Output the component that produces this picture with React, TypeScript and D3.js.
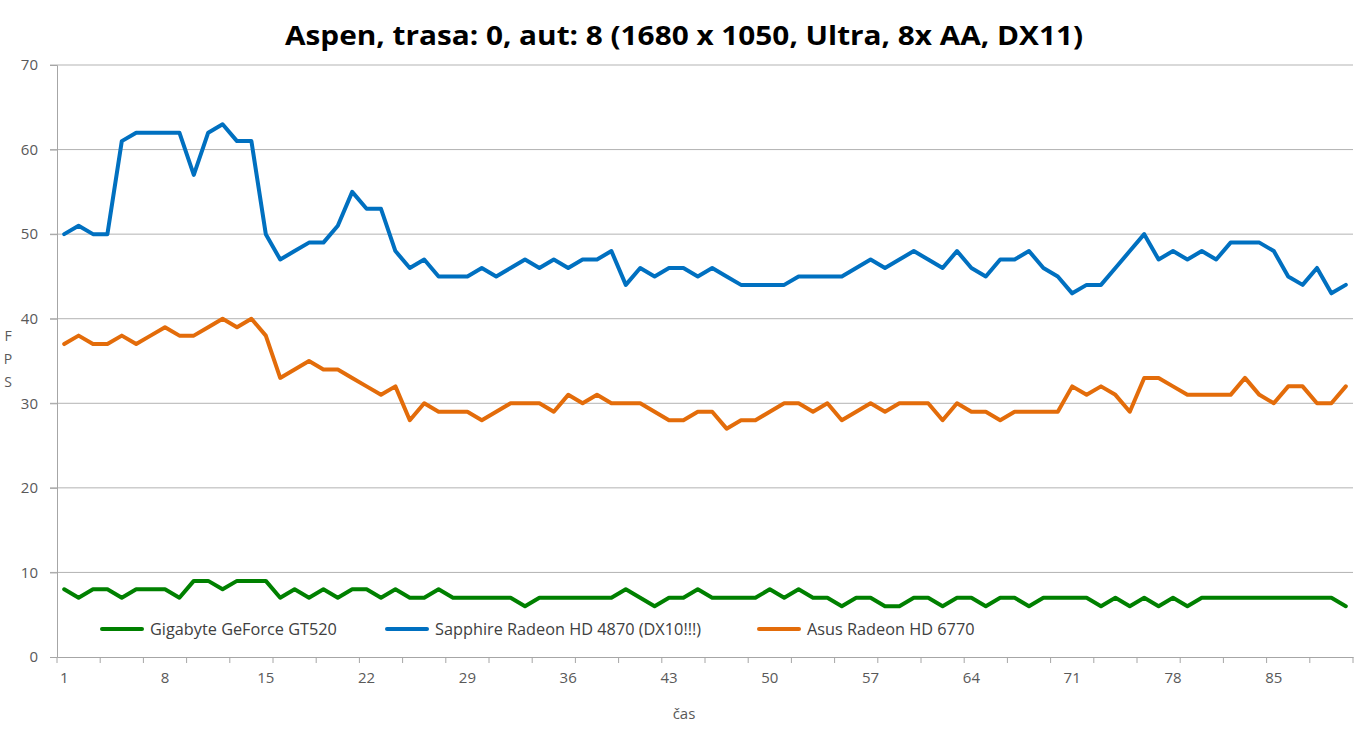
import { useEffect, useRef } from "react";
import * as d3 from "d3";

// FPS per time sample (1..90)
const gigabyte = [
  8, 7, 8, 8, 7, 8, 8, 8, 7, 9, 9, 8, 9, 9, 9, 7, 8, 7, 8, 7, 8, 8, 7,
  8, 7, 7, 8, 7, 7, 7, 7, 7, 6, 7, 7, 7, 7, 7, 7, 8, 7, 6, 7, 7, 8, 7,
  7, 7, 7, 8, 7, 8, 7, 7, 6, 7, 7, 6, 6, 7, 7, 6, 7, 7, 6, 7, 7, 6, 7,
  7, 7, 7, 6, 7, 6, 7, 6, 7, 6, 7, 7, 7, 7, 7, 7, 7, 7, 7, 7, 6,
];
const sapphire = [
  50, 51, 50, 50, 61, 62, 62, 62, 62, 57, 62, 63, 61, 61, 50, 47, 48, 49, 49, 51, 55, 53, 53,
  48, 46, 47, 45, 45, 45, 46, 45, 46, 47, 46, 47, 46, 47, 47, 48, 44, 46, 45, 46, 46, 45, 46,
  45, 44, 44, 44, 44, 45, 45, 45, 45, 46, 47, 46, 47, 48, 47, 46, 48, 46, 45, 47, 47, 48, 46,
  45, 43, 44, 44, 46, 48, 50, 47, 48, 47, 48, 47, 49, 49, 49, 48, 45, 44, 46, 43, 44,
];
const asus = [
  37, 38, 37, 37, 38, 37, 38, 39, 38, 38, 39, 40, 39, 40, 38, 33, 34, 35, 34, 34, 33, 32, 31,
  32, 28, 30, 29, 29, 29, 28, 29, 30, 30, 30, 29, 31, 30, 31, 30, 30, 30, 29, 28, 28, 29, 29,
  27, 28, 28, 29, 30, 30, 29, 30, 28, 29, 30, 29, 30, 30, 30, 28, 30, 29, 29, 28, 29, 29, 29,
  29, 32, 31, 32, 31, 29, 33, 33, 32, 31, 31, 31, 31, 33, 31, 30, 32, 32, 30, 30, 32,
];

const seriesNames = ["Gigabyte GeForce GT520", "Sapphire Radeon HD 4870 (DX10!!!)", "Asus Radeon HD 6770"];
const seriesColors = ["#008000", "#0070C0", "#E36C0A"];
const yTicks = [0, 10, 20, 30, 40, 50, 60, 70];
const xLabelStep = 7;
const xTickStep = 3;

const W = 1368;
const H = 732;
const font = "'Open Sans', 'Liberation Sans', sans-serif";

export default function App() {
  const ref = useRef<SVGSVGElement>(null);

  useEffect(() => {
    if (!ref.current) return;
    const svg = d3.select(ref.current);
    svg.selectAll("*").remove();

    const n = sapphire.length;
    const cats = d3.range(1, n + 1);
    const x = d3.scaleBand<number>().domain(cats).range([57, 1353]).padding(0);
    const y = d3.scaleLinear().domain([0, 70]).range([657, 65]);
    const cx = (i: number) => (x(i) as number) + x.bandwidth() / 2;

    // title
    svg
      .append("text")
      .attr("x", 684)
      .attr("y", 45)
      .attr("text-anchor", "middle")
      .attr("font-family", font)
      .attr("font-weight", "bold")
      .attr("font-size", 27)
      .attr("textLength", 798)
      .attr("lengthAdjust", "spacingAndGlyphs")
      .attr("fill", "#000")
      .text("Aspen, trasa: 0, aut: 8 (1680 x 1050, Ultra, 8x AA, DX11)");

    // gridlines
    svg
      .append("g")
      .selectAll("line")
      .data(yTicks.filter((t) => t > 0))
      .join("line")
      .attr("x1", 50)
      .attr("x2", 1353)
      .attr("y1", (d) => y(d))
      .attr("y2", (d) => y(d))
      .attr("stroke", "#b3b3b3")
      .attr("stroke-width", 1);

    // y axis
    const yAxis = svg
      .append("g")
      .attr("transform", "translate(57,0)")
      .call(d3.axisLeft(y).tickValues(yTicks).tickSize(7).tickPadding(12));
    yAxis.select(".domain").attr("stroke", "#a6a6a6");
    yAxis.selectAll(".tick line").attr("stroke", "#a6a6a6");
    yAxis
      .selectAll("text")
      .attr("font-family", font)
      .attr("font-size", 15)
      .attr("fill", "#595959");

    // x axis
    const xAxis = svg
      .append("g")
      .attr("transform", "translate(0,657)")
      .call(
        d3
          .axisBottom(x)
          .tickValues(cats.filter((c) => (c - 1) % xLabelStep === 0))
          .tickSize(0)
          .tickPadding(15)
      );
    xAxis.select(".domain").attr("stroke", "#a6a6a6");
    xAxis
      .selectAll("text")
      .attr("font-family", font)
      .attr("font-size", 15)
      .attr("fill", "#595959");
    const edges = cats.filter((c) => (c - 1) % xTickStep === 0).map((c) => x(c) as number);
    edges.push(x.range()[1]);
    svg
      .append("g")
      .selectAll("line")
      .data(edges)
      .join("line")
      .attr("x1", (d) => d)
      .attr("x2", (d) => d)
      .attr("y1", 657)
      .attr("y2", 663)
      .attr("stroke", "#a6a6a6");

    // axis titles
    svg
      .append("text")
      .attr("x", 684)
      .attr("y", 719)
      .attr("text-anchor", "middle")
      .attr("font-family", font)
      .attr("font-size", 15)
      .attr("fill", "#595959")
      .text("čas");
    svg
      .append("g")
      .selectAll("text")
      .data(["F", "P", "S"])
      .join("text")
      .attr("x", 8)
      .attr("y", (_, i) => 341 + i * 23)
      .attr("text-anchor", "middle")
      .attr("font-family", font)
      .attr("font-size", 14)
      .attr("fill", "#595959")
      .text((d) => d);

    // lines
    const line = d3
      .line<number>()
      .x((_, i) => cx(i + 1))
      .y((d) => y(d));
    [gigabyte, sapphire, asus].forEach((s, k) => {
      svg
        .append("path")
        .attr("d", line(s))
        .attr("fill", "none")
        .attr("stroke", seriesColors[k])
        .attr("stroke-width", 4)
        .attr("stroke-linejoin", "round")
        .attr("stroke-linecap", "round");
    });

    // legend
    const legendX = [102, 387, 759];
    const lg = svg
      .append("g")
      .selectAll("g")
      .data(seriesNames)
      .join("g")
      .attr("transform", (_, i) => `translate(${legendX[i]},629)`);
    lg.append("line")
      .attr("x1", 0)
      .attr("x2", 40)
      .attr("stroke", (_, i) => seriesColors[i])
      .attr("stroke-width", 4)
      .attr("stroke-linecap", "round");
    lg.append("text")
      .attr("x", 48)
      .attr("y", 6)
      .attr("font-family", font)
      .attr("font-size", 16.3)
      .attr("fill", "#404040")
      .text((d) => d);
  }, []);

  return (
    <svg
      ref={ref}
      width={W}
      height={H}
      style={{ position: "absolute", left: 0, top: 0, background: "#fff" }}
    />
  );
}
